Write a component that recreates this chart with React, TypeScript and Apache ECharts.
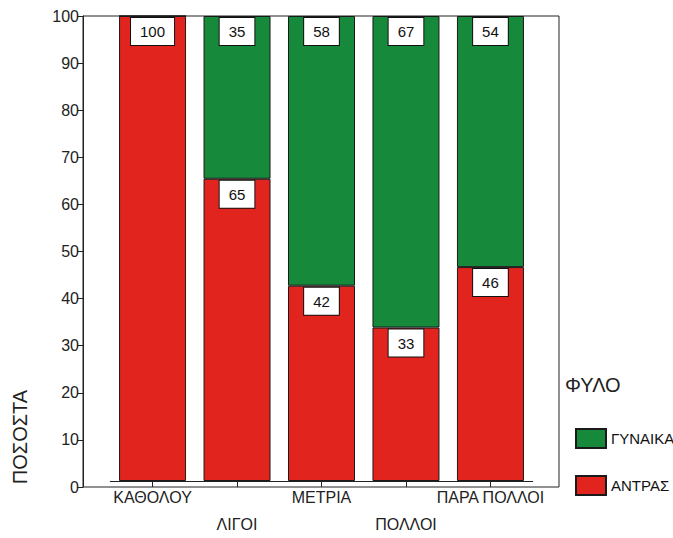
import React, { useEffect, useRef } from "react";
import * as echarts from "echarts";

const categories = ["ΚΑΘΟΛΟΥ", "ΛΙΓΟΙ", "ΜΕΤΡΙΑ", "ΠΟΛΛΟΙ", "ΠΑΡΑ ΠΟΛΛΟΙ"];
const menValues = [100, 65, 42, 33, 46];
const womenValues = [0, 35, 58, 67, 54];
const yTicks = { min: 0, max: 100, interval: 10 };
const seriesNames = { men: "ΑΝΤΡΑΣ", women: "ΓΥΝΑΙΚΑ" };
const legendTitle = "ΦΥΛΟ";
const yTitle = "ΠΟΣΟΣΤΑ";

const RED = "#e2241f";
const GREEN = "#17893a";
const FONT = "Liberation Sans, Arial, sans-serif";

const labelStyle = {
  show: true,
  position: "insideTop",
  distance: 2,
  color: "#111",
  fontSize: 15,
  fontFamily: FONT,
  lineHeight: 17,
  backgroundColor: "#fff",
  borderColor: "#111",
  borderWidth: 1,
  padding: [5, 9],
};

function toData(values: number[]) {
  return values.map((v) => (v === 0 ? { value: v, label: { show: false } } : v));
}

export default function App() {
  const ref = useRef<HTMLDivElement>(null);
  useEffect(() => {
    if (!ref.current) return;
    const chart = echarts.init(ref.current, null, { renderer: "svg" });
    chart.setOption({
      animation: false,
      backgroundColor: "#fff",
      textStyle: { fontFamily: FONT },
      grid: [
        { left: 83, right: 114, top: 16, bottom: 51, show: true, borderColor: "#222", borderWidth: 1, backgroundColor: "transparent" },
        { left: 110.3, right: 140.3, top: 16, bottom: 51 },
      ],
      xAxis: [
        { type: "value", gridIndex: 0, show: false, min: 0, max: 1 },
        {
          type: "category",
          gridIndex: 1,
          data: categories,
          axisLine: { show: true, lineStyle: { color: "#222", width: 1 } },
          axisTick: { show: true, alignWithLabel: true, length: 6, lineStyle: { color: "#222" } },
          axisLabel: {
            interval: 0,
            color: "#222",
            fontSize: 16,
            fontFamily: FONT,
            lineHeight: 27,
            margin: 3,
            formatter: (v: string, i: number) => (i % 2 === 1 ? "\n" + v : v),
          },
        },
      ],
      yAxis: [
        {
          type: "value",
          gridIndex: 0,
          min: yTicks.min,
          max: yTicks.max,
          interval: yTicks.interval,
          splitLine: { show: false },
          axisLine: { show: true, lineStyle: { color: "#222" } },
          axisTick: { show: true, length: 6, lineStyle: { color: "#222" } },
          axisLabel: { color: "#222", fontSize: 16, fontFamily: FONT, margin: 4 },
        },
        { type: "value", gridIndex: 1, min: yTicks.min, max: yTicks.max, show: false, splitLine: { show: false } },
      ],
      legend: {
        orient: "vertical",
        left: 570,
        top: 423,
        icon: "rect",
        itemWidth: 30,
        itemHeight: 19,
        itemGap: 26,
        data: [seriesNames.women, seriesNames.men],
        textStyle: { color: "#111", fontSize: 15, fontFamily: FONT },
        selectedMode: false,
      },
      graphic: [
        {
          type: "text",
          x: 19.5,
          y: 437,
          rotation: Math.PI / 2,
          style: { text: yTitle, fontSize: 20, fontFamily: FONT, fill: "#222", textAlign: "center", textVerticalAlign: "middle" },
        },
        {
          type: "text",
          x: 565,
          y: 385,
          style: { text: legendTitle, fontSize: 20, fontFamily: FONT, fill: "#222", textAlign: "left", textVerticalAlign: "middle" },
        },
      ],
      series: [
        {
          name: seriesNames.men,
          type: "bar",
          xAxisIndex: 1,
          yAxisIndex: 1,
          stack: "total",
          barWidth: 67,
          data: toData(menValues),
          itemStyle: { color: RED, borderColor: "#1a1a1a", borderWidth: 1 },
          label: labelStyle,
        },
        {
          name: seriesNames.women,
          type: "bar",
          xAxisIndex: 1,
          yAxisIndex: 1,
          stack: "total",
          barWidth: 67,
          data: toData(womenValues),
          itemStyle: { color: GREEN, borderColor: "#1a1a1a", borderWidth: 1 },
          label: labelStyle,
        },
      ],
    });
    return () => chart.dispose();
  }, []);
  return <div ref={ref} style={{ position: "absolute", left: 0, top: 0, width: 673, height: 538 }} />;
}
